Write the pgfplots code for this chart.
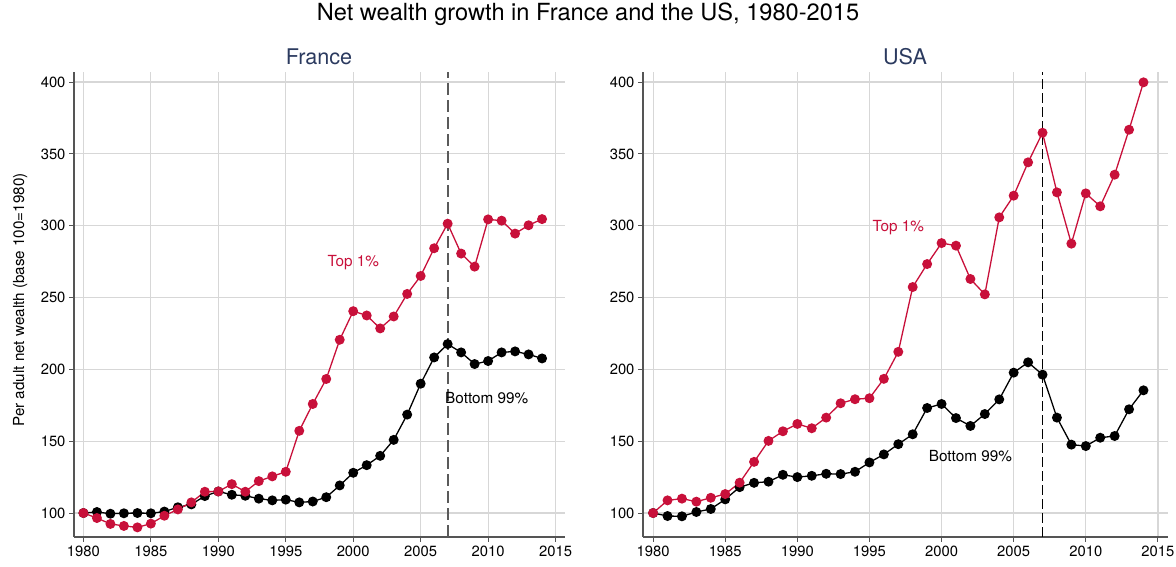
\documentclass[border=0pt]{standalone}
\usepackage{fontspec}
\setmainfont{TeX Gyre Heros}
\usepackage{pgfplots}
\pgfplotsset{compat=1.18}
\definecolor{topred}{RGB}{200,16,58}
\definecolor{navy}{RGB}{43,58,95}
\definecolor{gridc}{RGB}{215,215,215}
\definecolor{axc}{RGB}{85,85,85}

\pgfplotsset{
 panel/.style={
  scale only axis, height=465pt,
  xmin=1979.3, xmax=2015.7, ymin=83.3, ymax=407,
  axis x line*=bottom, axis y line*=left,
  axis line style={axc, line width=1.1pt},
  xtick={1980,1985,...,2015}, ytick={100,150,...,400},
  grid=major, major grid style={gridc, line width=1.2pt},
  tick align=outside, major tick length=5pt,
  tick style={axc, line width=1pt},
  ticklabel style={font=\fontsize{14.8}{17}\selectfont},
  /pgf/number format/assume math mode=true,
  x tick label style={/pgf/number format/1000 sep={}},
  clip=false,
 },
 bot/.style={black, line width=1.3pt, mark=*, mark size=4.3pt, mark options={solid, fill=black}},
 top/.style={topred, line width=1.3pt, mark=*, mark size=4.3pt, mark options={solid, fill=topred}},
}

\begin{document}
\begin{tikzpicture}[x=1pt,y=1pt]
\path[use as bounding box] (0,0) rectangle (1176,567);

\node[font=\fontsize{23.6}{27}\selectfont, anchor=base] at (588,546) {Net wealth growth in France and the US, 1980-2015};
\node[font=\fontsize{21.6}{25}\selectfont, anchor=base, text=navy] at (319,502) {France};
\node[font=\fontsize{21.6}{25}\selectfont, anchor=base, text=navy] at (905,502) {USA};
\node[font=\fontsize{15.2}{18}\selectfont, rotate=90, anchor=base] at (24,267) {Per adult net wealth (base 100=1980)};

% France
\begin{axis}[panel, width=491pt, at={(74pt,30pt)}, anchor=south west]
\addplot[color={rgb,255:red,90;green,90;blue,90}, line width=1.8pt, dash pattern=on 12pt off 5pt] coordinates {(2007,83.3) (2007,407)};
\addplot[bot] coordinates {
(1980,100) (1981,100.7) (1982,99.5) (1983,99.8) (1984,100) (1985,99.8)
(1986,101) (1987,104) (1988,106) (1989,111.8) (1990,115) (1991,112.7)
(1992,112) (1993,110) (1994,108.8) (1995,109.3) (1996,107.4) (1997,108)
(1998,111) (1999,119.2) (2000,128) (2001,133.3) (2002,139.8) (2003,150.9)
(2004,168.5) (2005,190) (2006,208.3) (2007,217.6) (2008,211.8) (2009,203.7)
(2010,205.8) (2011,211.8) (2012,212.5) (2013,210.4) (2014,207.6)};
\addplot[top] coordinates {
(1980,100) (1981,96.5) (1982,92.4) (1983,91) (1984,90) (1985,92.6)
(1986,98.1) (1987,102.5) (1988,107.4) (1989,114.8) (1990,115) (1991,120.1)
(1992,114.8) (1993,122.2) (1994,125.5) (1995,128.7) (1996,157.2) (1997,175.9)
(1998,193.3) (1999,220.6) (2000,240.5) (2001,237.5) (2002,228.5) (2003,236.8)
(2004,252.5) (2005,265) (2006,284.3) (2007,301.4) (2008,280.6) (2009,271.5)
(2010,304.4) (2011,303.5) (2012,294.5) (2013,300.3) (2014,304.6)};
\node[text=topred, font=\fontsize{15.3}{18}\selectfont] at (axis cs:2000,274) {Top 1\%};
\node[font=\fontsize{15.3}{18}\selectfont] at (axis cs:2009.9,180) {Bottom 99\%};
\end{axis}

% USA
\begin{axis}[panel, width=525pt, at={(643pt,30pt)}, anchor=south west]
\addplot[black, line width=1pt, dash pattern=on 10pt off 4pt] coordinates {(2007,83.3) (2007,407)};
\addplot[bot] coordinates {
(1980,100) (1981,97.9) (1982,97.7) (1983,100.7) (1984,102.8) (1985,109.5)
(1986,118) (1987,121) (1988,121.8) (1989,126.6) (1990,125) (1991,125.9)
(1992,127.3) (1993,127.1) (1994,128.7) (1995,135.2) (1996,140.8) (1997,147.9)
(1998,154.8) (1999,173.1) (2000,175.9) (2001,166.1) (2002,160.6) (2003,168.9)
(2004,179.1) (2005,197.7) (2006,204.9) (2007,196.3) (2008,166.4) (2009,147.6)
(2010,146.6) (2011,152.4) (2012,153.6) (2013,172.2) (2014,185.4)};
\addplot[top] coordinates {
(1980,100) (1981,108.8) (1982,110) (1983,107.9) (1984,110.6) (1985,113.2)
(1986,121.1) (1987,135.6) (1988,150.2) (1989,156.9) (1990,162) (1991,159)
(1992,166.4) (1993,176.4) (1994,179.2) (1995,179.9) (1996,193.4) (1997,212.2)
(1998,257.3) (1999,273.3) (2000,287.9) (2001,286.1) (2002,262.9) (2003,252.2)
(2004,305.8) (2005,320.9) (2006,344.1) (2007,364.7) (2008,323.2) (2009,287.5)
(2010,322.5) (2011,313.5) (2012,335.5) (2013,366.8) (2014,399.8)};
\node[text=topred, font=\fontsize{15.3}{18}\selectfont] at (axis cs:1997,299) {Top 1\%};
\node[font=\fontsize{15.3}{18}\selectfont] at (axis cs:2002,139.3) {Bottom 99\%};
\end{axis}
\end{tikzpicture}
\end{document}
